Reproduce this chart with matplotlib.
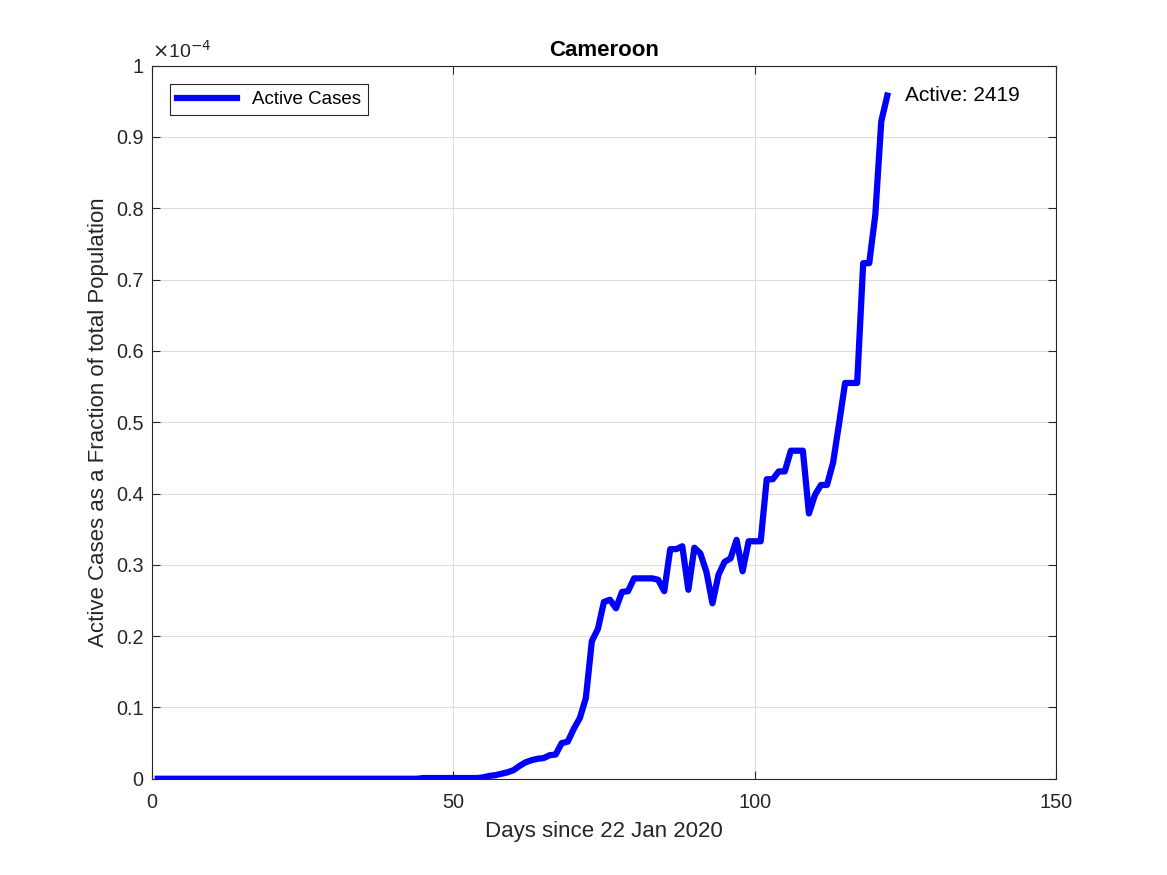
import matplotlib.pyplot as plt
import numpy as np

plt.rcParams['font.family'] = ['Liberation Sans', 'DejaVu Sans']

# active cases as fraction of population, in units of 1e-4
active_e4 = ([0.0] * 44 + [0.001] * 10 +
             [0.002, 0.004, 0.005, 0.007, 0.009, 0.012, 0.018, 0.023, 0.026, 0.028,
              0.029, 0.033, 0.034, 0.050, 0.052, 0.070, 0.085, 0.113, 0.193, 0.210,
              0.248, 0.251, 0.239, 0.262, 0.263, 0.281, 0.281, 0.281, 0.281, 0.279,
              0.263, 0.322, 0.322, 0.326, 0.265, 0.324, 0.316, 0.290, 0.246, 0.286,
              0.304, 0.309, 0.335, 0.291, 0.333, 0.333, 0.333, 0.420, 0.420, 0.431,
              0.431, 0.460, 0.460, 0.460, 0.372, 0.398, 0.412, 0.412, 0.443, 0.498,
              0.555, 0.555, 0.555, 0.723, 0.723, 0.790, 0.922, 0.958])
days = np.arange(1, len(active_e4) + 1)
last_active = 2419

xticks = [0, 50, 100, 150]
yticks = [0, 0.1, 0.2, 0.3, 0.4, 0.5, 0.6, 0.7, 0.8, 0.9, 1]
ytick_labels = ['0', '0.1', '0.2', '0.3', '0.4', '0.5', '0.6', '0.7', '0.8', '0.9', '1']

fig = plt.figure(figsize=(11.67, 8.75), dpi=100)
ax = fig.add_axes([0.13, 0.11, 0.775, 0.815])

ax.plot(days, active_e4, color='#0000ff', lw=4.5, label='Active Cases')
ax.text(days[-1] + 3, active_e4[-1], 'Active: %d' % last_active,
        fontsize=15, va='center', ha='left')

ax.set_xlim(0, 150)
ax.set_ylim(0, 1)
ax.set_xticks(xticks)
ax.set_yticks(yticks)
ax.set_yticklabels(ytick_labels)
ax.grid(True, color='#dedede', lw=0.8)
ax.set_axisbelow(True)
ax.tick_params(direction='in', top=True, right=True, length=6,
               labelsize=14.3, colors='#262626')
ax.tick_params(axis='x', pad=10)
ax.tick_params(axis='y', pad=6)
for s in ax.spines.values():
    s.set_color('#262626')

ax.set_title('Cameroon', fontsize=16, fontweight='bold', pad=7)
ax.set_xlabel('Days since 22 Jan 2020', fontsize=16, color='#262626', labelpad=7)
ax.set_ylabel('Active Cases as a Fraction of total Population', fontsize=16,
              color='#262626', labelpad=5)
ax.text(0, 1.006, r'$\times$10$^{-4}$', transform=ax.transAxes,
        fontsize=14, color='#262626', va='bottom', ha='left')

leg = ax.legend(loc='upper left', fontsize=13.5, fancybox=False, framealpha=1,
                edgecolor='#262626', borderaxespad=1.0, handlelength=3.2,
                borderpad=0.35)
leg.get_frame().set_linewidth(0.8)

fig.savefig('out.png', dpi=100)
